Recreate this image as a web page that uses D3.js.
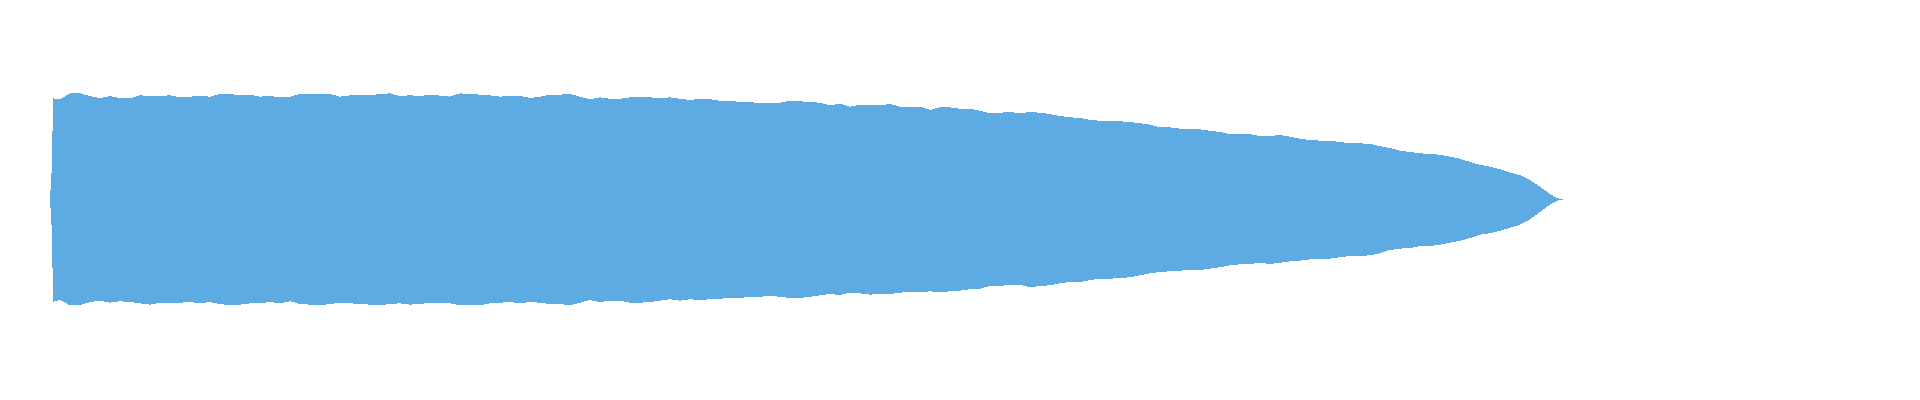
<!DOCTYPE html>
<html>
<head>
<meta charset="utf-8">
<script src="https://cdn.jsdelivr.net/npm/d3@7"></script>
<style>
  html, body { margin: 0; padding: 0; background: #ffffff; }
  svg { display: block; }
</style>
</head>
<body>
<svg id="chart" width="1920" height="400"></svg>
<script>
// Sample times (seconds)
const times = [0, 0.2, 0.3,
  1, 2, 3, 4, 5, 6, 7, 8, 9, 10, 11, 12, 13, 14, 15, 16, 17, 18, 19, 20,
  21, 22, 23, 24, 25, 26, 27, 28, 29, 30, 31, 32, 33, 34, 35, 36, 37, 38, 39, 40,
  41, 42, 43, 44, 45, 46, 47, 48, 49, 50, 51, 52, 53, 54, 55, 56, 57, 58, 59, 60,
  61, 62, 63, 64, 65, 66, 67, 68, 69, 70, 71, 72, 73, 74, 75, 76, 77, 78, 79, 80,
  81, 82, 83, 84, 85, 86, 87, 88, 89, 90, 91, 92, 93, 94, 95, 96, 97, 98, 99, 100,
  101, 102, 103, 104, 105, 106, 107, 108, 109, 110, 111, 112, 113, 114, 115, 116, 117, 118, 119, 120,
  121, 122, 123, 124, 125, 126, 127, 128, 129, 130, 131, 132, 133, 134, 135, 136, 137, 138, 139, 140,
  141, 142, 143, 144, 145, 146, 147, 148, 149, 150, 150.7, 151.3];

// Peak (max) amplitude per sample
const upperPeak = [0.005, 0.314, 0.92,
  0.911, 0.965, 0.965, 0.941, 0.920, 0.941, 0.920, 0.920, 0.947, 0.941,
  0.941, 0.947, 0.929, 0.935, 0.941, 0.935, 0.959, 0.959, 0.947, 0.953,
  0.935, 0.941, 0.929, 0.935, 0.959, 0.956, 0.956, 0.959, 0.935, 0.947,
  0.950, 0.947, 0.959, 0.965, 0.941, 0.947, 0.941, 0.953, 0.945, 0.935,
  0.965, 0.959, 0.953, 0.947, 0.935, 0.941, 0.941, 0.923, 0.935, 0.953,
  0.953, 0.959, 0.935, 0.911, 0.929, 0.916, 0.916, 0.929, 0.935, 0.929,
  0.920, 0.929, 0.916, 0.905, 0.916, 0.911, 0.898, 0.898, 0.886, 0.886,
  0.875, 0.875, 0.880, 0.898, 0.893, 0.886, 0.880, 0.856, 0.871, 0.844,
  0.862, 0.862, 0.856, 0.868, 0.844, 0.838, 0.844, 0.814, 0.838, 0.838,
  0.825, 0.825, 0.807, 0.784, 0.789, 0.795, 0.784, 0.795, 0.789, 0.777,
  0.759, 0.747, 0.741, 0.723, 0.716, 0.711, 0.711, 0.705, 0.693, 0.680,
  0.656, 0.656, 0.644, 0.638, 0.638, 0.625, 0.614, 0.595, 0.593, 0.595,
  0.577, 0.577, 0.586, 0.571, 0.553, 0.541, 0.535, 0.535, 0.523, 0.511,
  0.511, 0.505, 0.486, 0.468, 0.444, 0.432, 0.420, 0.414, 0.407, 0.389,
  0.371, 0.341, 0.316, 0.298, 0.275, 0.245, 0.221, 0.177, 0.116, 0.050,
  0.014, 0.002];

// Trough (min) amplitude per sample
const lowerPeak = [-0.005, -0.305, -0.93,
  -0.914, -0.962, -0.962, -0.932, -0.920, -0.938, -0.925, -0.932, -0.944, -0.956,
  -0.938, -0.944, -0.938, -0.932, -0.944, -0.932, -0.950, -0.962, -0.956, -0.944,
  -0.944, -0.932, -0.944, -0.925, -0.950, -0.956, -0.962, -0.950, -0.938, -0.944,
  -0.950, -0.956, -0.962, -0.950, -0.944, -0.956, -0.950, -0.938, -0.944, -0.944,
  -0.962, -0.956, -0.962, -0.944, -0.938, -0.932, -0.944, -0.932, -0.938, -0.950,
  -0.950, -0.962, -0.938, -0.914, -0.932, -0.920, -0.920, -0.938, -0.938, -0.932,
  -0.920, -0.907, -0.920, -0.907, -0.914, -0.907, -0.902, -0.895, -0.895, -0.884,
  -0.884, -0.877, -0.884, -0.895, -0.895, -0.884, -0.871, -0.859, -0.868, -0.847,
  -0.853, -0.865, -0.859, -0.859, -0.847, -0.841, -0.841, -0.835, -0.841, -0.835,
  -0.829, -0.816, -0.811, -0.786, -0.786, -0.775, -0.775, -0.798, -0.786, -0.780,
  -0.762, -0.750, -0.750, -0.732, -0.720, -0.720, -0.714, -0.707, -0.689, -0.671,
  -0.659, -0.653, -0.647, -0.641, -0.641, -0.629, -0.616, -0.598, -0.589, -0.586,
  -0.575, -0.586, -0.575, -0.562, -0.556, -0.544, -0.538, -0.538, -0.525, -0.514,
  -0.514, -0.507, -0.489, -0.459, -0.447, -0.441, -0.423, -0.423, -0.411, -0.393,
  -0.375, -0.350, -0.320, -0.307, -0.284, -0.259, -0.229, -0.180, -0.114, -0.047,
  -0.011, -0.002];

const data = times.map((t, i) => ({ t, hi: upperPeak[i], lo: lowerPeak[i] }));

const svg = d3.select("#chart");

const x = d3.scaleLinear()
  .domain([0, d3.max(times)])
  .range([50, 1563]);

const y = d3.scaleLinear()
  .domain([-1, 1])
  .range([309.5, 89.5]);

const area = d3.area()
  .x(d => x(d.t))
  .y0(d => y(d.lo))
  .y1(d => y(d.hi))
  .curve(d3.curveLinear);

svg.append("path")
  .datum(data)
  .attr("d", area)
  .attr("fill", "#5dabe2")
  .attr("stroke", "none")
  .attr("shape-rendering", "crispEdges");
</script>
</body>
</html>
